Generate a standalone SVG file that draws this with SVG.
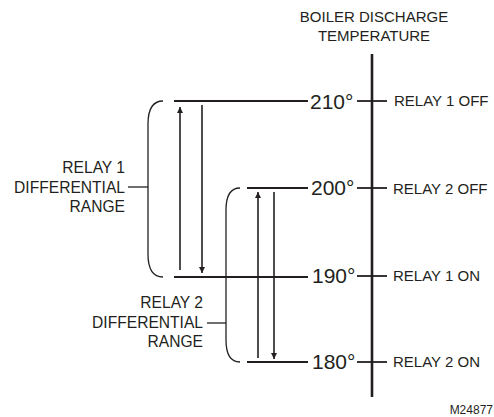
<svg xmlns="http://www.w3.org/2000/svg" width="494" height="417" viewBox="0 0 494 417">
<style>
text{font-family:"Liberation Sans",Arial,sans-serif;fill:#231f20}
.lbl{font-size:15.6px}
.num{font-size:21px}
.st{font-size:15px}
.ln{stroke:#231f20;stroke-width:1.8;fill:none}
.br{stroke:#231f20;stroke-width:1.3;fill:none}
.ax{stroke:#231f20;stroke-width:2.6;fill:none}
.ar{stroke:#231f20;stroke-width:1.6;fill:none}
</style>
<defs>
<marker id="ah" viewBox="0 0 10 10" refX="10" refY="5" markerWidth="10" markerHeight="6" markerUnits="userSpaceOnUse" orient="auto">
<path d="M0,0 L10,5 L0,10 Z" fill="#231f20"/>
</marker>
</defs>
<rect width="494" height="417" fill="#fff"/>
<g id="axis">
<text class="st" x="374" y="22" text-anchor="middle">BOILER DISCHARGE</text>
<text class="st" x="374" y="41" text-anchor="middle">TEMPERATURE</text>
<line class="ax" x1="372" y1="54" x2="372" y2="397"/>
</g>
<g id="t210">
<text class="num" x="310" y="109">210°</text>
<text class="st" x="394" y="106">RELAY 1 OFF</text>
</g>
<g id="t200">
<text class="num" x="311" y="195">200°</text>
<text class="st" x="393" y="194">RELAY 2 OFF</text>
</g>
<g id="t190">
<text class="num" x="312" y="283">190°</text>
<text class="st" x="393" y="281">RELAY 1 ON</text>
</g>
<g id="t180">
<text class="num" x="312" y="369">180°</text>
<text class="st" x="393" y="367">RELAY 2 ON</text>
</g>
<g id="relay1">
<text class="lbl" x="125" y="173" text-anchor="end">RELAY 1</text>
<text class="lbl" x="125" y="193" text-anchor="end">DIFFERENTIAL</text>
<text class="lbl" x="125" y="212" text-anchor="end">RANGE</text>
</g>
<g id="relay2">
<text class="lbl" x="203" y="308" text-anchor="end">RELAY 2</text>
<text class="lbl" x="203" y="328" text-anchor="end">DIFFERENTIAL</text>
<text class="lbl" x="203" y="347" text-anchor="end">RANGE</text>
</g>
<text x="493" y="414" font-size="12" text-anchor="end">M24877</text>
<g id="connectors">
<line class="ln" x1="357" y1="101" x2="387" y2="101"/>
<line class="ln" x1="357" y1="188" x2="387" y2="188"/>
<line class="ln" x1="357" y1="276" x2="387" y2="276"/>
<line class="ln" x1="357" y1="362" x2="387" y2="362"/>
<line class="ln" x1="174" y1="101" x2="308" y2="101"/>
<line class="ln" x1="174" y1="277" x2="308" y2="277"/>
<line class="ln" x1="247" y1="188" x2="308" y2="188"/>
<line class="ln" x1="247" y1="362" x2="308" y2="362"/>
<path class="br" d="M163,101 C152,101 148,110 148,124 L148,254 C148,268 152,277 163,277"/>
<line class="br" x1="128" y1="187" x2="148" y2="187"/>
<path class="br" d="M240,188 C230,188 226,196 226,210 L226,340 C226,354 230,362 240,362"/>
<line class="br" x1="207" y1="323" x2="226" y2="323"/>
<line class="ar" x1="180" y1="270" x2="180" y2="107" marker-end="url(#ah)"/>
<line class="ar" x1="202" y1="105" x2="202" y2="273" marker-end="url(#ah)"/>
<line class="ar" x1="258" y1="358" x2="258" y2="192" marker-end="url(#ah)"/>
<line class="ar" x1="274" y1="192" x2="274" y2="359" marker-end="url(#ah)"/>
</g>
</svg>
